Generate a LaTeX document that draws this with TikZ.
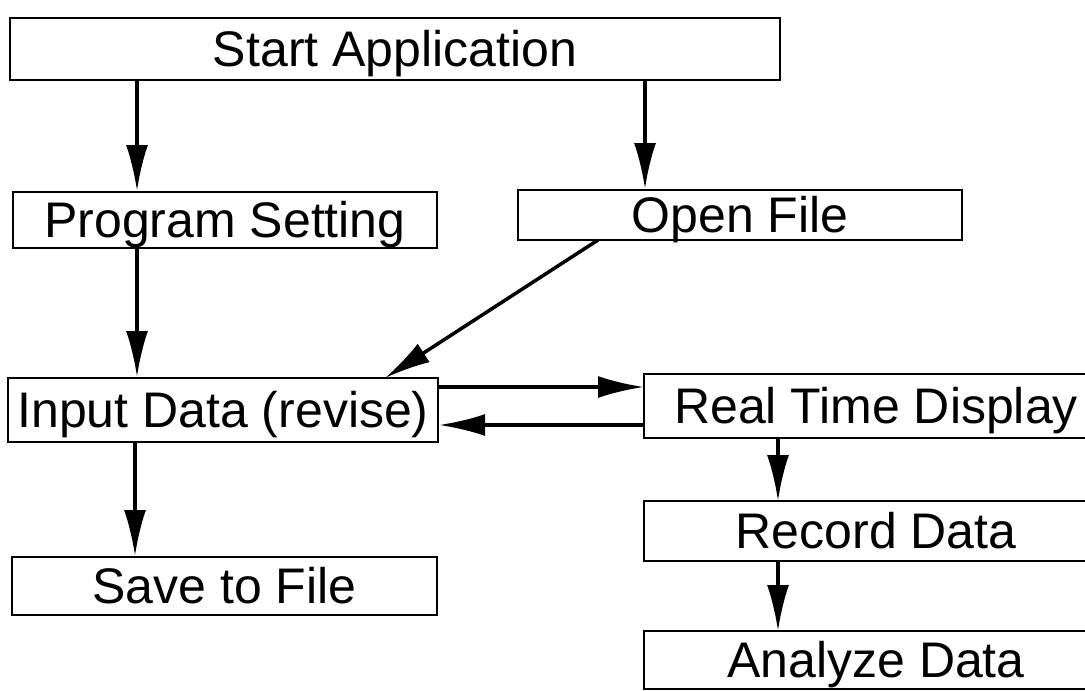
\documentclass[tikz,border=0pt]{standalone}
\usepackage{fontspec}
\setmainfont{Liberation Sans}
\usetikzlibrary{arrows.meta}
\begin{document}
\begin{tikzpicture}[x=1pt,y=-1pt,
  box/.style={draw=black,line width=2pt,rectangle,inner sep=0pt,
    font=\fontsize{50}{56}\selectfont,text height=35pt,text depth=0pt},
  openbox/.style={box,draw=none},
  edge/.style={draw=black,line width=2pt},
  arr/.style={draw=black,line width=3.5pt,
    -{Latex[length=46pt,width=22pt]}}]
\useasboundingbox (0,0) rectangle (1085,691);
\node[box,minimum width=770pt,minimum height=62pt] (start) at (395,49) {Start Application};
\node[box,minimum width=424pt,minimum height=56pt] (prog) at (225,220) {Program Setting};
\node[box,minimum width=444pt,minimum height=50pt] (open) at (740,215) {Open File};
\node[box,minimum width=430pt,minimum height=64pt] (input) at (223,410) {Input Data (revise)};
\node[box,minimum width=425pt,minimum height=58pt] (save) at (224.5,586) {Save to File};
\node[openbox,minimum width=462pt,minimum height=62pt] (rtd) at (876,406) {Real Time Display};
\node[openbox,minimum width=462pt,minimum height=58pt] (record) at (876,531) {Record Data};
\node[openbox,minimum width=462pt,minimum height=56pt] (analyze) at (876,660) {Analyze Data};
\coordinate (edgex) at (1090,0);
\foreach \n in {rtd,record,analyze}{
  \draw[edge] (\n.north -| edgex) -- (\n.north west) -- (\n.south west) -- (\n.south -| edgex);
}
\coordinate (cl) at (137,0);
\coordinate (cr) at (645,0);
\coordinate (cs) at (135,0);
\coordinate (cd) at (778,0);
\coordinate (hu) at (0,387);
\coordinate (hl) at (0,425);
\coordinate (os) at (598,240);
\coordinate (ie) at (385,378);
\draw[arr] (start.south -| cl) -- (prog.north -| cl);
\draw[arr] (start.south -| cr) -- (open.north -| cr);
\draw[arr] (prog.south -| cl) -- (input.north -| cl);
\draw[arr] (os) -- (ie);
\draw[arr] (input.east |- hu) -- (rtd.west |- hu);
\draw[arr] (rtd.west |- hl) -- (input.east |- hl);
\draw[arr] (input.south -| cs) -- (save.north -| cs);
\draw[arr] (rtd.south -| cd) -- (record.north -| cd);
\draw[arr] (record.south -| cd) -- (analyze.north -| cd);
\end{tikzpicture}
\end{document}
